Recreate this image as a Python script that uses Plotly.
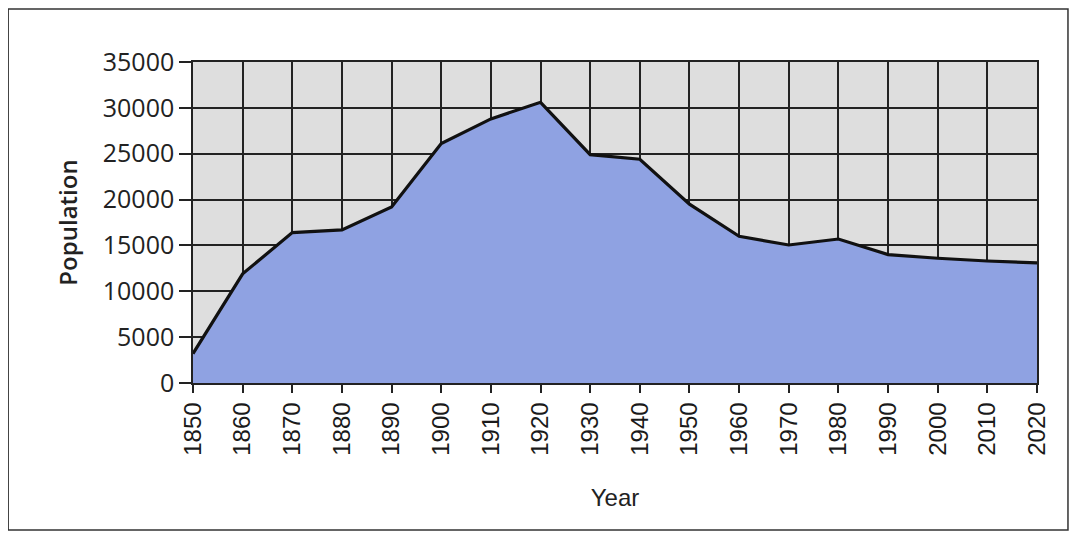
import plotly.graph_objects as go

years = [1850, 1860, 1870, 1880, 1890, 1900, 1910, 1920, 1930, 1940,
         1950, 1960, 1970, 1980, 1990, 2000, 2010, 2020]
population = [3200, 11900, 16400, 16700, 19200, 26100, 28800, 30600, 24900, 24400,
              19500, 16000, 15050, 15700, 14000, 13600, 13300, 13100]
y_ticks = [0, 5000, 10000, 15000, 20000, 25000, 30000, 35000]
y_labels = [str(v) for v in y_ticks]
x_labels = [str(v) for v in years]

fig = go.Figure()
fig.add_trace(go.Scatter(
    x=years, y=population, mode="lines", fill="tozeroy",
    fillcolor="rgb(143,162,226)", line=dict(color="#111111", width=3.2),
    showlegend=False, hoverinfo="skip",
))

fig.update_layout(
    width=1077, height=541,
    margin=dict(l=185, r=48, t=54, b=166),
    paper_bgcolor="white",
    plot_bgcolor="rgb(222,222,222)",
    xaxis=dict(
        range=[1850, 2020], tickvals=years, ticktext=x_labels,
        tickangle=-90, ticks="outside", ticklen=8, tickcolor="#222", tickwidth=1.5,
        showgrid=True, gridcolor="#222", gridwidth=1.5,
        showline=True, linecolor="#222", linewidth=1.5, mirror=True,
        tickfont=dict(family="Liberation Sans, Arial", size=24, color="#1a1a1a"),
        title=dict(text="Year", font=dict(family="Liberation Sans, Arial", size=24, color="#222"), standoff=34),
        zeroline=False,
    ),
    yaxis=dict(
        range=[0, 35000], tickvals=y_ticks, ticktext=y_labels, ticks="outside", ticklen=12,
        tickcolor="#222", tickwidth=1.5,
        showgrid=True, gridcolor="#222", gridwidth=1.5,
        showline=True, linecolor="#222", linewidth=1.5, mirror=True,
        tickfont=dict(family="Open Sans", size=25, color="#222"),
        title=dict(text="Population", font=dict(family="Open Sans", size=24, weight=600, color="#222"), standoff=18),
        zeroline=False,
    ),
)

fig.add_shape(type="rect", xref="paper", yref="paper",
              x0=-0.219, x1=1.0367, y0=-0.458, y1=1.165,
              line=dict(color="#333", width=1.5), fillcolor="rgba(0,0,0,0)", layer="above")

fig.write_html("out.html")
